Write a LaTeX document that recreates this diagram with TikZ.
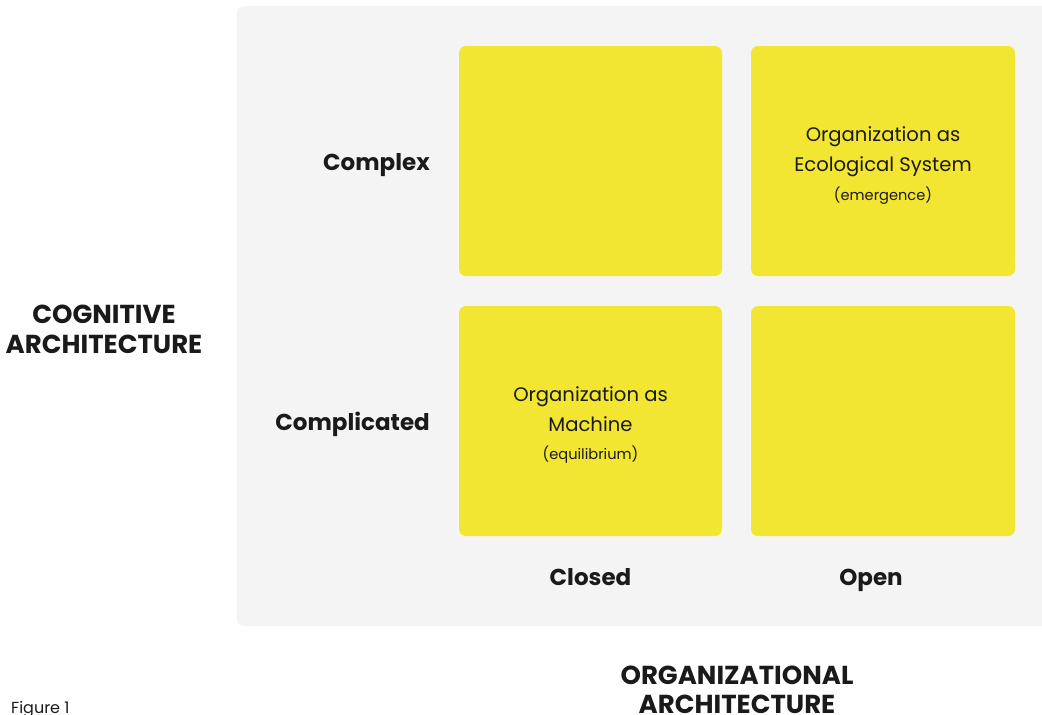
\documentclass[tikz,border=0pt]{standalone}
\usepackage{fontspec}
\setmainfont{Poppins}
\definecolor{bggray}{HTML}{F4F4F4}
\definecolor{ylw}{HTML}{F2E632}
\definecolor{ink}{HTML}{1A1A1A}
\begin{document}
\begin{tikzpicture}[x=1pt,y=-1pt,
  cell/.style={fill=ylw,rounded corners=7pt},
  rowlab/.style={font=\bfseries\fontsize{23}{27}\selectfont,text=ink,anchor=base east,inner sep=0pt},
  collab/.style={font=\bfseries\fontsize{23}{27}\selectfont,text=ink,anchor=base,inner sep=0pt},
  axislab/.style={font=\bfseries\fontsize{26}{30}\selectfont,text=ink,anchor=base,inner sep=0pt},
  celltext/.style={font=\fontsize{19.6}{24}\selectfont,text=ink,anchor=base,inner sep=0pt},
  smalltext/.style={font=\fontsize{14.6}{17}\selectfont,text=ink,anchor=base,inner sep=0pt}]
\useasboundingbox (0,0) rectangle (1042,715);
\fill[bggray,rounded corners=7pt] (237,6) rectangle (1060,626);
\fill[bggray] (1030,6) rectangle (1042,626);
\path[cell] (459,46) rectangle (722,276);
\path[cell] (751,46) rectangle (1015,276);
\path[cell] (459,306) rectangle (722,536);
\path[cell] (751,306) rectangle (1015,536);
\node[celltext] (tr1) at (883,141) {Organization as};
\node[celltext] (tr2) at (883,171) {Ecological System};
\node[smalltext] (tre) at (883,200) {(emergence)};
\node[celltext] (bl1) at (590.5,401) {Organization as};
\node[celltext] (bl2) at (590.5,431) {Machine};
\node[smalltext] (ble) at (590.5,459) {(equilibrium)};
\node[rowlab] (complex) at (430,170) {Complex};
\node[rowlab] (complicated) at (430,430) {Complicated};
\node[collab] (closed) at (590.5,585) {Closed};
\node[collab] (open) at (871,585) {Open};
\node[axislab] (cog1) at (104,323) {COGNITIVE};
\node[axislab] (cog2) at (104,353) {ARCHITECTURE};
\node[axislab] (org1) at (737,684) {ORGANIZATIONAL};
\node[axislab] (org2) at (737,713) {ARCHITECTURE};
\node[smalltext,font=\fontsize{16}{19}\selectfont,anchor=base west] (fig) at (11,713) {Figure 1};
\end{tikzpicture}
\end{document}
